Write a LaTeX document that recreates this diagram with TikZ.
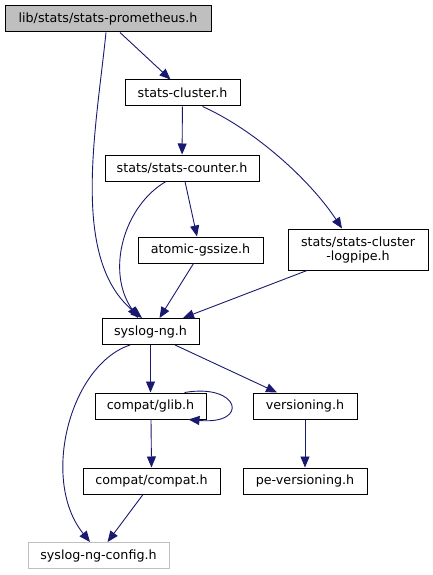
\documentclass[tikz,border=0pt]{standalone}
\usepackage{fontspec}
\setmainfont{DejaVu Sans}
\usetikzlibrary{arrows.meta}
\definecolor{edgeblue}{RGB}{25,25,112}
\definecolor{lightframe}{RGB}{191,191,191}
\tikzset{
  inclarrow/.style={-{Triangle[length=11pt,width=9pt]}, edgeblue, line width=0.9pt},
  filebox/.style={draw, line width=1pt, minimum height=26pt, inner sep=2pt, align=center,
    font=\fontsize{12.7}{14}\selectfont},
  rootbox/.style={filebox, fill=lightframe},
  extbox/.style={filebox, draw=lightframe}
}

\begin{document}
\begin{tikzpicture}[x=1pt, y=-1pt]
      \useasboundingbox (0,0) rectangle (432,575);
      \node[rootbox, minimum width=206pt] (prom) at (108,19) {lib/stats/stats-prometheus.h};
      \node[filebox, minimum width=115pt] (cluster) at (182.5,93) {stats-cluster.h};
      \node[filebox, minimum width=154pt] (counter) at (182,168) {stats/stats-counter.h};
      \node[filebox, minimum width=125pt] (atomic) at (200.5,250) {atomic-gssize.h};
      \node[filebox, minimum width=140pt, minimum height=41pt] (logpipe) at (358,249.5) {stats/stats-cluster\\-logpipe.h};
      \node[filebox, minimum width=97pt] (syslogng) at (150.5,331.5) {syslog-ng.h};
      \node[filebox, minimum width=111pt] (glib) at (150.5,406) {compat/glib.h};
      \node[filebox, minimum width=104pt] (versioning) at (305,406) {versioning.h};
      \node[filebox, minimum width=137pt] (compat) at (151.5,481) {compat/compat.h};
      \node[filebox, minimum width=124pt] (peversioning) at (305,481) {pe-versioning.h};
      \node[extbox, minimum width=141pt] (config) at (98.5,555.5) {syslog-ng-config.h};
      % includes of the top file
      \draw[inclarrow] ([xshift=12pt]prom.south) -- ([xshift=-12pt]cluster.north);
      \draw[inclarrow] ([xshift=-2pt]prom.south) .. controls (96,130) and (70,260) .. ([xshift=-8.5pt]syslogng.north);
      \draw[inclarrow] (cluster) -- (counter);
      \draw[inclarrow] ([xshift=20pt]cluster.south) .. controls (255,130) and (310,180) .. ([xshift=-16pt]logpipe.north);
      \draw[inclarrow] ([xshift=3pt]counter.south) -- ([xshift=-3.5pt]atomic.north);
      \draw[inclarrow] ([xshift=-16pt]counter.south) .. controls (125,205) and (105,270) .. ([xshift=-12.5pt]syslogng.north);
      \draw[inclarrow] ([xshift=-7pt]atomic.south) -- ([xshift=9pt]syslogng.north);
      \draw[inclarrow] ([xshift=-51pt]logpipe.south) -- ([xshift=32.5pt]syslogng.north);
      % syslog-ng.h and below
      \draw[inclarrow] (syslogng) -- (glib);
      \draw[inclarrow] ([xshift=24.5pt]syslogng.south) -- ([xshift=-28pt]versioning.north);
      \draw[inclarrow] ([xshift=-20.5pt]syslogng.south) .. controls (70,365) and (40,480) .. ([xshift=-8.5pt]config.north);
      \draw[inclarrow] ([xshift=-22pt]glib.north east) .. controls (240,383) and (250,425) .. ([xshift=-18pt]glib.south east);
      \draw[inclarrow] ([xshift=0.5pt]glib.south) -- (compat.north);
      \draw[inclarrow] (versioning) -- (peversioning);
      \draw[inclarrow] ([xshift=-8.5pt]compat.south) -- ([xshift=9pt]config.north);
    \end{tikzpicture}
\end{document}
